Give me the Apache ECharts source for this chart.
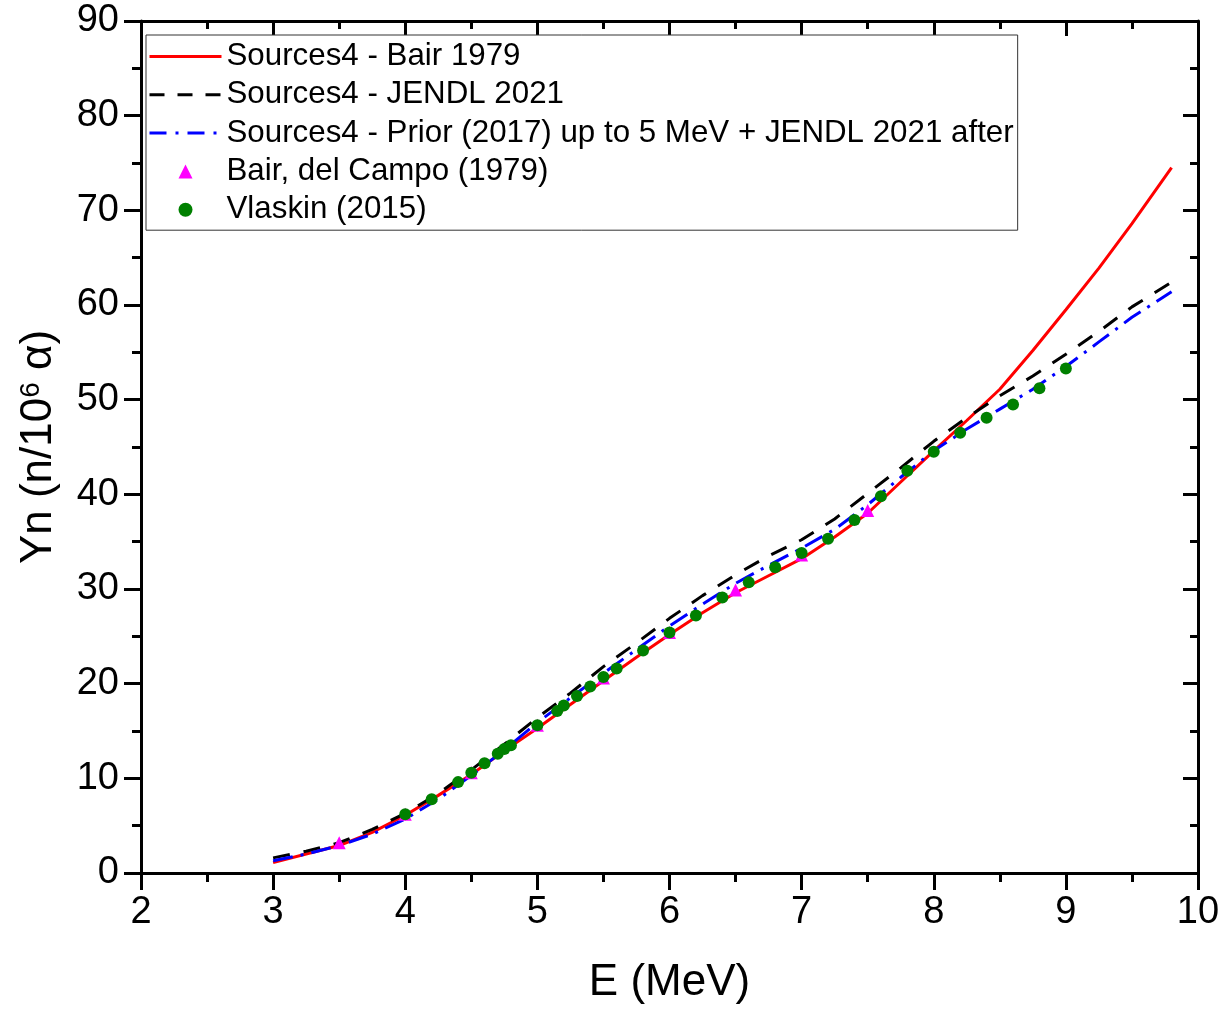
<!DOCTYPE html>
<html>
<head>
<meta charset="utf-8">
<script src="https://cdn.jsdelivr.net/npm/echarts@6/dist/echarts.min.js"></script>
<style>html,body{margin:0;padding:0;background:#fff}#c{width:1225px;height:1011px}</style>
</head>
<body>
<div id="c"></div>
<script>
// ---- Data ----
const energyGrid = [3.0, 3.25, 3.5, 3.75, 4.0, 4.25, 4.5, 4.75, 5.0, 5.25, 5.5, 5.75, 6.0, 6.25, 6.5, 6.75, 7.0, 7.25, 7.5, 7.75, 8.0, 8.25, 8.5, 8.75, 9.0, 9.25, 9.5, 9.8];
const bair1979Calc = [1.1, 2.0, 2.9, 4.3, 6.1, 8.2, 10.4, 12.9, 15.3, 17.8, 20.3, 22.8, 25.2, 27.5, 29.6, 31.4, 33.2, 35.5, 38.0, 41.3, 44.6, 47.8, 51.1, 55.2, 59.5, 63.9, 68.6, 74.5];
const jendl2021Calc = [1.6, 2.3, 3.2, 4.6, 6.3, 8.4, 10.9, 13.6, 16.4, 19.0, 21.8, 24.3, 26.9, 29.3, 31.5, 33.5, 35.2, 37.4, 40.1, 42.8, 45.6, 48.1, 50.4, 52.5, 54.8, 57.2, 59.8, 62.4];
const priorJendlCalc = [1.3, 2.0, 2.9, 4.1, 5.7, 7.8, 10.3, 13.0, 15.9, 18.5, 21.1, 23.6, 26.1, 28.4, 30.6, 32.5, 34.3, 36.3, 38.9, 41.8, 44.6, 46.9, 49.0, 51.1, 53.5, 56.1, 58.7, 61.4];
const bairExpE = [3.5, 4.0, 4.5, 5.0, 5.5, 6.0, 6.5, 7.0, 7.5];
const bairExpY = [3.2, 6.2, 10.6, 15.6, 20.6, 25.4, 29.9, 33.6, 38.3];
const vlaskinE = [4.0, 4.2, 4.4, 4.5, 4.6, 4.7, 4.75, 4.8, 5.0, 5.15, 5.2, 5.3, 5.4, 5.5, 5.6, 5.8, 6.0, 6.2, 6.4, 6.6, 6.8, 7.0, 7.2, 7.4, 7.6, 7.8, 8.0, 8.2, 8.4, 8.6, 8.8, 9.0];
const vlaskinY = [6.2, 7.8, 9.6, 10.6, 11.6, 12.6, 13.1, 13.5, 15.6, 17.1, 17.7, 18.7, 19.7, 20.7, 21.6, 23.5, 25.4, 27.2, 29.1, 30.7, 32.3, 33.8, 35.3, 37.3, 39.8, 42.5, 44.5, 46.5, 48.1, 49.5, 51.2, 53.3];
const seriesNames = ['Sources4 - Bair 1979', 'Sources4 - JENDL 2021', 'Sources4 - Prior (2017) up to 5 MeV + JENDL 2021 after', 'Bair, del Campo (1979)', 'Vlaskin (2015)'];
const xTitle = 'E (MeV)';

const FONT = '"Liberation Sans", Arial, Helvetica, sans-serif';
const zip = (a, b) => a.map((v, i) => [v, b[i]]);

const chart = echarts.init(document.getElementById('c'), null, {renderer: 'canvas'});

const axisCommon = {
  type: 'value',
  axisLine: {show: true, onZero: false, lineStyle: {color: '#000', width: 3}},
  splitLine: {show: false},
};
const hiddenSymbol = {color: 'rgba(0,0,0,0)', opacity: 0, borderWidth: 0};

const option = {
  backgroundColor: '#fff',
  animation: false,
  textStyle: {fontFamily: FONT},
  grid: {left: 141, right: 27, top: 21, bottom: 138, containLabel: false},
  legend: {
    orient: 'vertical', left: 146, top: 35,
    itemWidth: 72, itemHeight: 14, itemGap: 7.3,
    padding: [6, 4, 5, 2],
    symbolKeepAspect: true,
    backgroundColor: '#fff', borderColor: '#333', borderWidth: 1,
    textStyle: {fontSize: 31.3, color: '#000', fontFamily: FONT},
    data: [
      {name: seriesNames[0], itemStyle: hiddenSymbol, lineStyle: {width: 3}},
      {name: seriesNames[1], itemStyle: hiddenSymbol, lineStyle: {width: 3, type: [15, 13]}},
      {name: seriesNames[2], itemStyle: hiddenSymbol, lineStyle: {width: 3, type: [17, 9, 3, 9]}},
      {name: seriesNames[3], icon: 'path://M0,-1L1,1L-1,1Z'},
      {name: seriesNames[4], icon: 'circle'}
    ]
  },
  xAxis: [
    Object.assign({}, axisCommon, {
      min: 2, max: 10, interval: 1, position: 'bottom',
      axisTick: {show: true, inside: false, length: 17, lineStyle: {color: '#000', width: 3}},
      minorTick: {show: true, splitNumber: 2, length: 9, lineStyle: {color: '#000', width: 3}},
      axisLabel: {fontSize: 38, color: '#000', margin: 21, fontFamily: FONT},
      name: xTitle, nameLocation: 'middle', nameGap: 88,
      nameTextStyle: {fontSize: 44, color: '#000', fontFamily: FONT}
    }),
    Object.assign({}, axisCommon, {
      min: 2, max: 10, interval: 1, position: 'top',
      axisTick: {show: true, inside: true, length: 15, lineStyle: {color: '#000', width: 3}},
      minorTick: {show: true, splitNumber: 2, length: 8, lineStyle: {color: '#000', width: 3}},
      axisLabel: {show: false}
    })
  ],
  yAxis: [
    Object.assign({}, axisCommon, {
      min: 0, max: 90, interval: 10, position: 'left',
      axisTick: {show: true, inside: false, length: 17, lineStyle: {color: '#000', width: 3}},
      minorTick: {show: true, splitNumber: 2, length: 9, lineStyle: {color: '#000', width: 3}},
      axisLabel: {fontSize: 38, color: '#000', margin: 22, fontFamily: FONT},
      name: '{a|Yn (n/10}{s|6}{a| α)}', nameLocation: 'middle', nameGap: 80, nameRotate: 90,
      nameTextStyle: {
        color: '#000', fontFamily: FONT,
        rich: {
          a: {fontSize: 44, color: '#000', fontFamily: FONT, verticalAlign: 'bottom'},
          s: {fontSize: 28, color: '#000', fontFamily: FONT, verticalAlign: 'top'}
        }
      }
    }),
    Object.assign({}, axisCommon, {
      min: 0, max: 90, interval: 10, position: 'right',
      axisTick: {show: true, inside: true, length: 15, lineStyle: {color: '#000', width: 3}},
      minorTick: {show: true, splitNumber: 2, length: 8, lineStyle: {color: '#000', width: 3}},
      axisLabel: {show: false}
    })
  ],
  series: [
    {
      name: seriesNames[0], type: 'line', data: zip(energyGrid, bair1979Calc),
      symbol: 'none', showSymbol: false, smooth: false, z: 2,
      lineStyle: {color: '#ff0000', width: 3},
      itemStyle: {color: '#ff0000'}
    },
    {
      name: seriesNames[1], type: 'line', data: zip(energyGrid, jendl2021Calc),
      symbol: 'none', showSymbol: false, z: 3,
      lineStyle: {color: '#000', width: 3, type: [17, 14]},
      itemStyle: {color: '#000'}
    },
    {
      name: seriesNames[2], type: 'line', data: zip(energyGrid, priorJendlCalc),
      symbol: 'none', showSymbol: false, z: 4,
      lineStyle: {color: '#0000ff', width: 3, type: [20, 8, 3, 8]},
      itemStyle: {color: '#0000ff'}
    },
    {
      name: seriesNames[3], type: 'scatter', data: zip(bairExpE, bairExpY),
      symbol: 'triangle', symbolSize: 13, z: 5,
      itemStyle: {color: '#ff00ff', opacity: 1}
    },
    {
      name: seriesNames[4], type: 'scatter', data: zip(vlaskinE, vlaskinY),
      symbol: 'circle', symbolSize: 12, z: 6,
      itemStyle: {color: '#008000', opacity: 1}
    }
  ]
};
chart.setOption(option);
</script>
</body>
</html>
